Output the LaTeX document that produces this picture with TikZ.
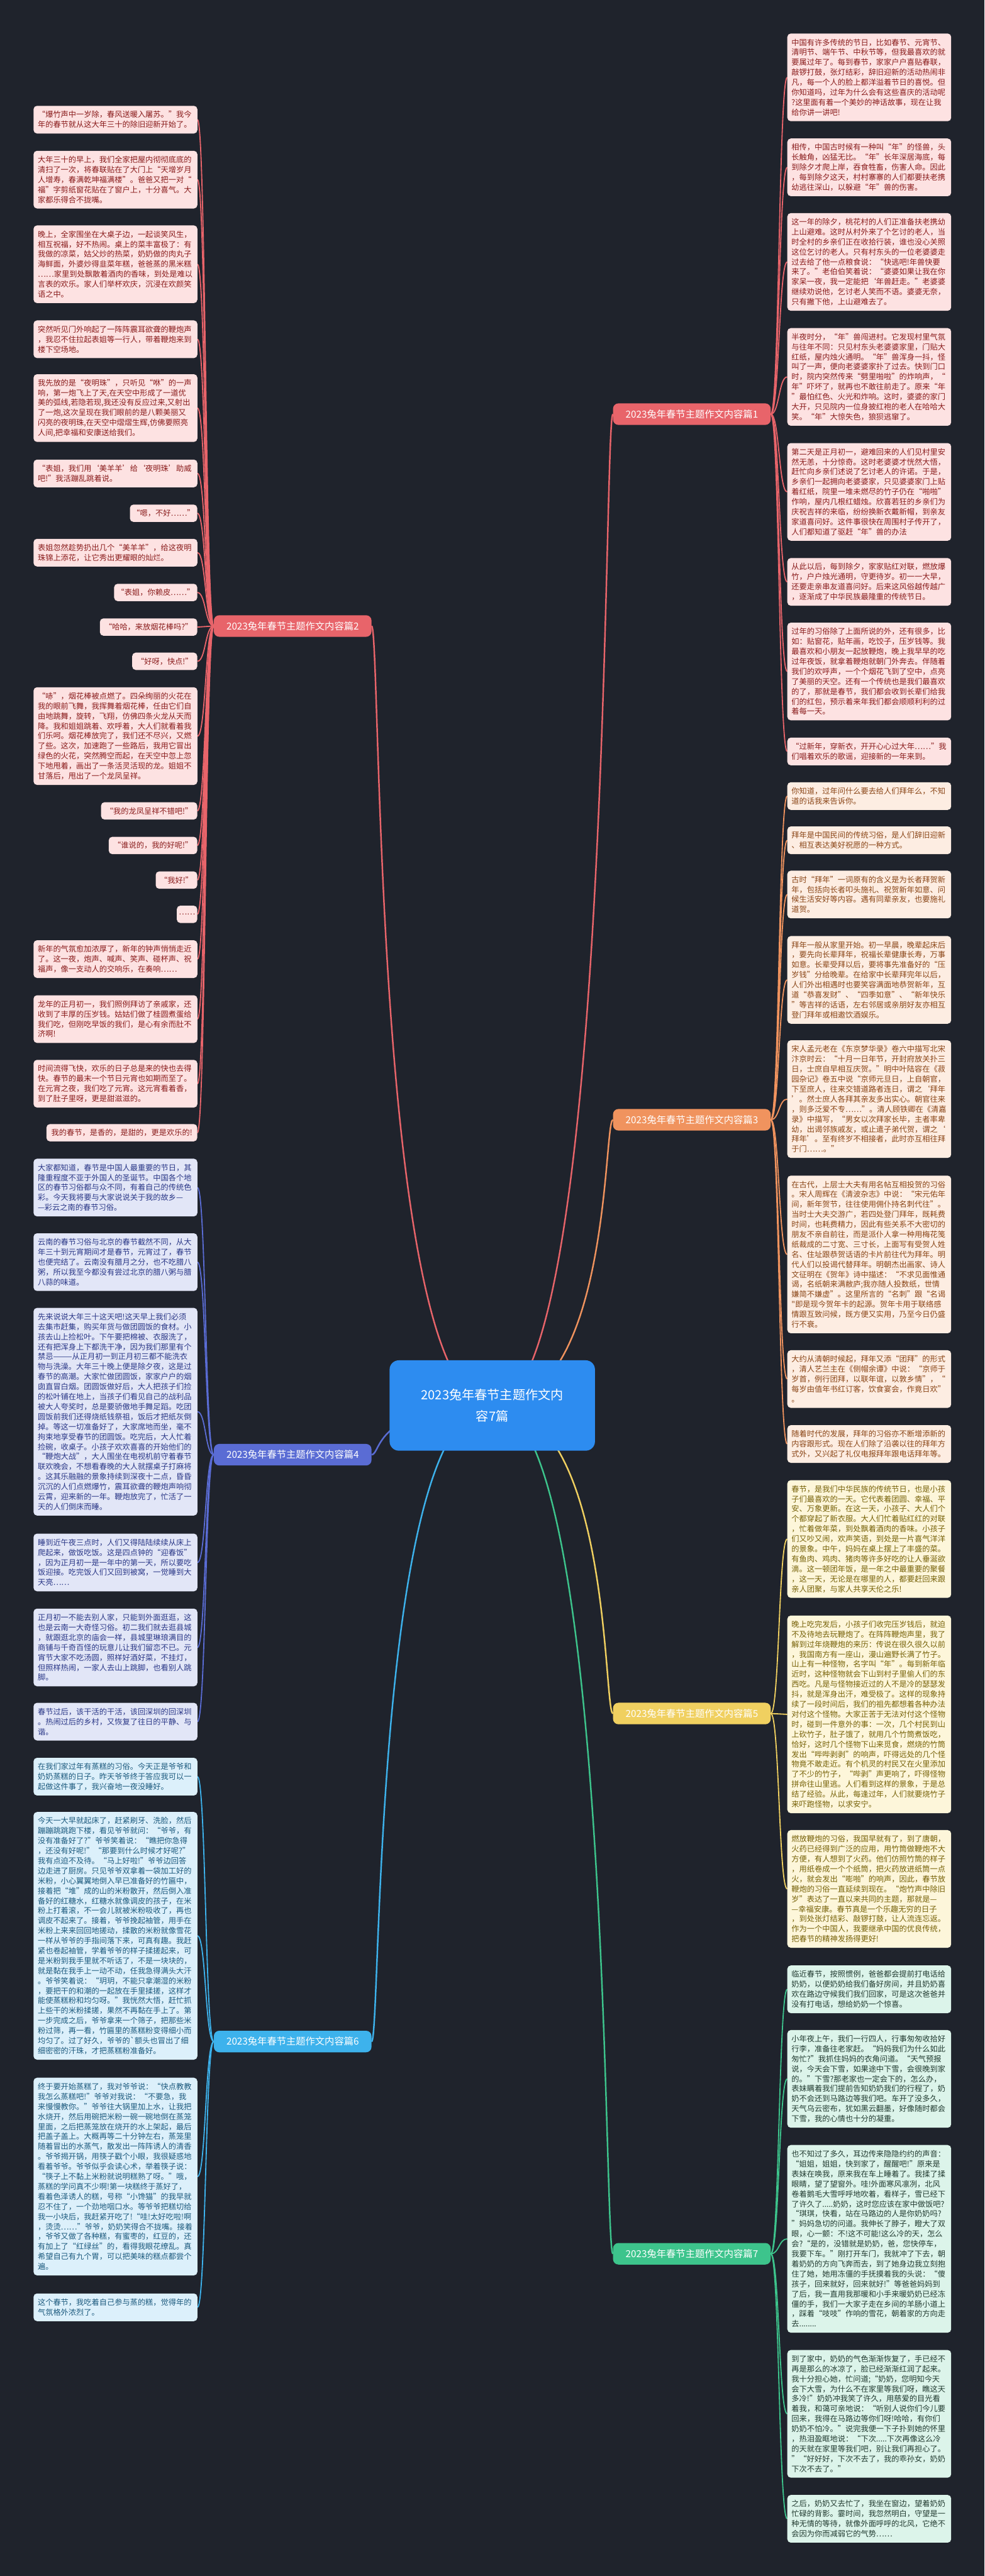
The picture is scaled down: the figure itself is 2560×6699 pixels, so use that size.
\documentclass[tikz,border=0pt]{standalone}
\usepackage{fontspec}
\newfontfamily\cjk{Noto Sans CJK SC}
\newcommand\leaffont{\cjk\fontsize{20}{26}\selectfont}
\pgfdeclarelayer{back}\pgfdeclarelayer{edges}
\pgfsetlayers{back,edges,main}
\definecolor{bgc}{HTML}{1F232C}
\definecolor{rootc}{HTML}{2D8CF0}
\definecolor{cR}{HTML}{E8646A}\definecolor{fR}{HTML}{FDE2E2}\definecolor{tR}{HTML}{8A1C1C}
\definecolor{cO}{HTML}{F0935E}\definecolor{fO}{HTML}{FDEDE2}\definecolor{tO}{HTML}{8A4516}
\definecolor{cB}{HTML}{5A6CD4}\definecolor{fB}{HTML}{E2E6F7}\definecolor{tB}{HTML}{2A3787}
\definecolor{cY}{HTML}{F0D060}\definecolor{fY}{HTML}{FDF6DA}\definecolor{tY}{HTML}{776208}
\definecolor{cS}{HTML}{3DB2EC}\definecolor{fS}{HTML}{DCF0FB}\definecolor{tS}{HTML}{1C5A7E}
\definecolor{cG}{HTML}{3DC48C}\definecolor{fG}{HTML}{DCF4EA}\definecolor{tG}{HTML}{223B31}
\tikzset{
 leafbox/.style={fill=f#1, text=t#1, rounded corners=9pt, font=\leaffont, inner xsep=11pt, inner ysep=0pt, text width=404pt, align=left, anchor=north west},
 shortbox/.style={fill=f#1, text=t#1, rounded corners=9pt, font=\leaffont, inner sep=0pt, align=center, anchor=north east, minimum height=45pt},
 brnode/.style={fill=c#1, text=white, rounded corners=14pt, minimum width=410pt, minimum height=56pt, font=\cjk\fontsize{25}{30}\selectfont, inner sep=0pt},
 rootnode/.style={fill=rootc, text=white, rounded corners=24pt, minimum width=534pt, minimum height=235pt, font=\cjk\fontsize{33}{56}\selectfont, align=center, inner sep=0pt},
 mk/.style={draw=c#1, line width=4pt},
 lk/.style={draw=c#1, line width=3pt}
}
\begin{document}
\begin{tikzpicture}[x=1pt,y=-1pt]
\useasboundingbox (0,0) rectangle (2560,6699);
\begin{pgfonlayer}{back}\fill[bgc] (0,0) rectangle (2560,6699);\end{pgfonlayer}

\node[rootnode] (root) at (1280,3655) {2023兔年春节主题作文内\\容7篇};
\node[brnode=R] (b1) at (1799,1077) {2023兔年春节主题作文内容篇1};
\node[brnode=R] (b2) at (761,1628) {2023兔年春节主题作文内容篇2};
\node[brnode=O] (b3) at (1799,2912) {2023兔年春节主题作文内容篇3};
\node[brnode=B] (b4) at (761,3783) {2023兔年春节主题作文内容篇4};
\node[brnode=Y] (b5) at (1799,4456) {2023兔年春节主题作文内容篇5};
\node[brnode=S] (b6) at (761,5309) {2023兔年春节主题作文内容篇6};
\node[brnode=G] (b7) at (1799,5861) {2023兔年春节主题作文内容篇7};

% ---------- branch 1 (right, red)
\node[leafbox=R, minimum height=228pt] (r1) at (2047,87) {中国有许多传统的节日，比如春节、元宵节、\\清明节、端午节、中秋节等，但我最喜欢的就\\要属过年了。每到春节，家家户户喜贴春联，\\敲锣打鼓，张灯结彩，辞旧迎新的活动热闹非\\凡，每一个人的脸上都洋溢着节日的喜悦。但\\你知道吗，过年为什么会有这些喜庆的活动呢\\?这里面有着一个美妙的神话故事，现在让我\\给你讲一讲吧!};
\node[leafbox=R, minimum height=150pt] (r2) at (2047,360) {相传，中国古时候有一种叫“年”的怪兽，头\\长触角，凶猛无比。“年”长年深居海底，每\\到除夕才爬上岸，吞食牲畜，伤害人命。因此\\，每到除夕这天，村村寨寨的人们都要扶老携\\幼逃往深山，以躲避“年”兽的伤害。};
\node[leafbox=R, minimum height=254pt] (r3) at (2047,554) {这一年的除夕，桃花村的人们正准备扶老携幼\\上山避难。这时从村外来了个乞讨的老人，当\\时全村的乡亲们正在收拾行装，谁也没心关照\\这位乞讨的老人。只有村东头的一位老婆婆走\\过去给了他一点粮食说：“快逃吧!年兽快要\\来了。”老伯伯笑着说：“婆婆如果让我在你\\家呆一夜，我一定能把‘年兽赶走。”老婆婆\\继续劝说他，乞讨老人笑而不语。婆婆无奈，\\只有撇下他，上山避难去了。};
\node[leafbox=R, minimum height=254pt] (r4) at (2047,853) {半夜时分，“年”兽闯进村。它发现村里气氛\\与往年不同：只见村东头老婆婆家里，门贴大\\红纸，屋内烛火通明。“年”兽浑身一抖，怪\\叫了一声，便向老婆婆家扑了过去。快到门口\\时，院内突然传来“劈里啪啦”的炸响声，“\\年”吓坏了，就再也不敢往前走了。原来“年\\”最怕红色、火光和炸响。这时，婆婆的家门\\大开，只见院内一位身披红袍的老人在哈哈大\\笑。“年”大惊失色，狼狈逃窜了。};
\node[leafbox=R, minimum height=254pt] (r5) at (2047,1152) {第二天是正月初一，避难回来的人们见村里安\\然无恙，十分惊奇。这时老婆婆才恍然大悟，\\赶忙向乡亲们述说了乞讨老人的许诺。于是，\\乡亲们一起拥向老婆婆家，只见婆婆家门上贴\\着红纸，院里一堆未燃尽的竹子仍在“啪啪”\\作响，屋内几根红蜡烛。欣喜若狂的乡亲们为\\庆祝吉祥的来临，纷纷换新衣戴新帽，到亲友\\家道喜问好。这件事很快在周围村子传开了，\\人们都知道了驱赶“年”兽的办法};
\node[leafbox=R, minimum height=124pt] (r6) at (2047,1451) {从此以后，每到除夕，家家贴红对联，燃放爆\\竹，户户烛光通明，守更待岁。初一一大早，\\还要走亲串友道喜问好。后来这风俗越传越广\\，逐渐成了中华民族最隆重的传统节日。};
\node[leafbox=R, minimum height=254pt] (r7) at (2047,1619) {过年的习俗除了上面所说的外，还有很多，比\\如：贴窗花，贴年画，吃饺子，压岁钱等。我\\最喜欢和小朋友一起放鞭炮，晚上我早早的吃\\过年夜饭，就拿着鞭炮就朝门外奔去。伴随着\\我们的欢呼声，一个个烟花飞到了空中，点亮\\了美丽的天空。还有一个传统也是我们最喜欢\\的了，那就是春节，我们都会收到长辈们给我\\们的红包，预示着来年我们都会顺顺利利的过\\着每一天。};
\node[leafbox=R, minimum height=72pt] (r8) at (2047,1918) {“过新年，穿新衣，开开心心过大年……”我\\们唱着欢乐的歌谣，迎接新的一年来到。};

% ---------- branch 3 (right, orange)
\node[leafbox=O, minimum height=72pt] (o1) at (2047,2034) {你知道，过年问什么要去给人们拜年么，不知\\道的话我来告诉你。};
\node[leafbox=O, minimum height=72pt] (o2) at (2047,2149) {拜年是中国民间的传统习俗，是人们辞旧迎新\\、相互表达美好祝愿的一种方式。};
\node[leafbox=O, minimum height=124pt] (o3) at (2047,2264) {古时“拜年”一词原有的含义是为长者拜贺新\\年，包括向长者叩头施礼、祝贺新年如意、问\\候生活安好等内容。遇有同辈亲友，也要施礼\\道贺。};
\node[leafbox=O, minimum height=228pt] (o4) at (2047,2434) {拜年一般从家里开始。初一早晨，晚辈起床后\\，要先向长辈拜年，祝福长辈健康长寿，万事\\如意。长辈受拜以后，要将事先准备好的“压\\岁钱”分给晚辈。在给家中长辈拜完年以后，\\人们外出相遇时也要笑容满面地恭贺新年，互\\道“恭喜发财”、“四季如意”、“新年快乐\\”等吉祥的话语，左右邻居或亲朋好友亦相互\\登门拜年或相邀饮酒娱乐。};
\node[leafbox=O, minimum height=306pt] (o5) at (2047,2705) {宋人孟元老在《东京梦华录》卷六中描写北宋\\汴京时云：“十月一日年节，开封府放关扑三\\日，士庶自早相互庆贺。”明中叶陆容在《菽\\园杂记》卷五中说“京师元旦日，上自朝官，\\下至庶人，往来交错道路者连日，谓之‘拜年\\’。然士庶人各拜其亲友多出实心。朝官往来\\，则多泛爱不专……”。清人顾铁卿在《清嘉\\录》中描写，“男女以次拜家长毕，主者率卑\\幼，出谒邻族戚友，或止遣子弟代贺，谓之‘\\拜年’。至有终岁不相接者，此时亦互相往拜\\于门……。”};
\node[leafbox=O, minimum height=410pt] (o6) at (2047,3057) {在古代，上层士大夫有用名帖互相投贺的习俗\\。宋人周辉在《清波杂志》中说：“宋元佑年\\间，新年贺节，往往使用佣仆持名刺代往”。\\当时士大夫交游广，若四处登门拜年，既耗费\\时间，也耗费精力，因此有些关系不大密切的\\朋友不亲自前往，而是派仆人拿一种用梅花笺\\纸裁成的二寸宽、三寸长，上面写有受贺人姓\\名、住址跟恭贺话语的卡片前往代为拜年。明\\代人们以投谒代替拜年。明朝杰出画家、诗人\\文征明在《贺年》诗中描述：“不求见面惟通\\谒，名纸朝来满敝庐;我亦随人投数纸，世情\\嫌简不嫌虚”。这里所言的“名刺”跟“名谒\\"即是现今贺年卡的起源。贺年卡用于联络感\\情跟互致问候，既方便又实用，乃至今日仍盛\\行不衰。};
\node[leafbox=O, minimum height=150pt] (o7) at (2047,3511) {大约从清朝时候起，拜年又添“团拜”的形式\\，清人艺兰主在《侧帽余谭》中说：“京师于\\岁首，例行团拜，以联年谊，以敦乡情”，“\\每岁由值年书红订客，饮食宴会，作竟日欢”\\。};
\node[leafbox=O, minimum height=98pt] (o8) at (2047,3706) {随着时代的发展，拜年的习俗亦不断增添新的\\内容跟形式。现在人们除了沿袭以往的拜年方\\式外，又兴起了礼仪电报拜年跟电话拜年等。};

% ---------- branch 5 (right, yellow)
\node[leafbox=Y, minimum height=306pt] (y1) at (2047,3849) {春节，是我们中华民族的传统节日，也是小孩\\子们最喜欢的一天。它代表着团圆、幸福、平\\安、万象更新。在这一天，小孩子、大人们个\\个都穿起了新衣服。大人们忙着贴红红的对联\\，忙着做年菜，到处飘着酒肉的香味。小孩子\\们又吵又闹，欢声笑语，到处是一片喜气洋洋\\的景象。中午，妈妈在桌上摆上了丰盛的菜。\\有鱼肉、鸡肉、猪肉等许多好吃的让人垂涎欲\\滴。这一顿团年饭，是一年之中最重要的聚餐\\，这一天，无论是在哪里的人，都要赶回来跟\\亲人团聚，与家人共享天伦之乐!};
\node[leafbox=Y, minimum height=514pt] (y2) at (2047,4201) {晚上吃完发后，小孩子们收完压岁钱后，就迫\\不及待地去玩鞭炮了。在阵阵鞭炮声里，我了\\解到过年烧鞭炮的来历：传说在很久很久以前\\，我国南方有一座山，漫山遍野长满了竹子。\\山上有一种怪物，名字叫“年”。每到新年临\\近时，这种怪物就会下山到村子里偷人们的东\\西吃。凡是与怪物接近过的人不是冷的瑟瑟发\\抖，就是浑身出汗，难受极了。这样的现象持\\续了一段时间后，我们的祖先都想着各种办法\\对付这个怪物。大家正苦于无法对付这个怪物\\时，碰到一件意外的事：一次，几个村民到山\\上砍竹子，肚子饿了，就用几个竹筒煮饭吃，\\恰好，这时几个怪物下山来觅食，燃烧的竹筒\\发出“哔哔剥剥”的响声，吓得远处的几个怪\\物竟不敢走近。有个机灵的村民又在火里添加\\了不少的竹子，“哔剥”声更响了，吓得怪物\\拼命往山里逃。人们看到这样的景象，于是总\\结了经验。从此，每逢过年，人们就要烧竹子\\来吓跑怪物，以求安宁。};
\node[leafbox=Y, minimum height=306pt] (y3) at (2047,4759) {燃放鞭炮的习俗，我国早就有了，到了唐朝，\\火药已经得到广泛的应用，用竹筒做鞭炮不大\\方便，有人想到了火药。他们仿照竹筒的样子\\，用纸卷成一个个纸筒，把火药放进纸筒一点\\火，就会发出“嘭啪”的响声，因此，春节放\\鞭炮的习俗一直延续到现在。“炮竹声中除旧\\岁”表达了一直以来共同的主题，那就是—\\—幸福安康。春节真是一个乐趣无穷的日子\\，到处张灯结彩、敲锣打鼓，让人流连忘返。\\作为一个中国人，我要继承中国的优良传统，\\把春节的精神发扬得更好!};

% ---------- branch 7 (right, green)
\node[leafbox=G, minimum height=124pt] (g1) at (2047,5111) {临近春节，按照惯例，爸爸都会提前打电话给\\奶奶，以便奶奶给我们备好房间，并且奶奶喜\\欢在路边守候我们我们回家，可是这次爸爸并\\没有打电话，想给奶奶一个惊喜。};
\node[leafbox=G, minimum height=254pt] (g2) at (2047,5279) {小年夜上午，我们一行四人，行事匆匆收拾好\\行李，准备往老家赶。“妈妈我们为什么如此\\匆忙?”我抓住妈妈的衣角问道。“天气预报\\说，今天会下雪，如果途中下雪，会很晚到家\\的。”下雪?那老家也一定会下的，怎么办，\\表妹瞒着我们提前告知奶奶我们的行程了，奶\\奶不会还到马路边等我们吧。车开了没多久，\\天气乌云密布，犹如黑云翻墨，好像随时都会\\下雪，我的心情也十分的凝重。};
\node[leafbox=G, minimum height=488pt] (g3) at (2047,5578) {也不知过了多久，耳边传来隐隐约约的声音：\\“姐姐，姐姐，快到家了，醒醒吧!”原来是\\表妹在唤我，原来我在车上睡着了。我揉了揉\\眼睛，望了望窗外。哇!外面寒风凛冽，北风\\卷着鹅毛大雪呼呼地吹着，看样子，雪已经下\\了许久了.....奶奶，这时您应该在家中做饭吧?\\“琪琪，快看，站在马路边的人是你奶奶吗?\\”妈妈急切的问道。我伸长了脖子，瞪大了双\\眼，心一颤：不!这不可能!这么冷的天，怎么\\会?“是的，没错就是奶奶，爸，您快停车，\\我要下车。”刚打开车门，我就冲了下去，朝\\着奶奶的方向飞奔而去，到了她身边我立刻抱\\住了她，她用冻僵的手抚摸着我的头说：“傻\\孩子，回来就好，回来就好!”等爸爸妈妈到\\了后，我一直用我那暖和小手来暖奶奶已经冻\\僵的手，我们一大家子走在乡间的羊肠小道上\\，踩着“吱吱”作响的雪花，朝着家的方向走\\去........};
\node[leafbox=G, minimum height=332pt] (g4) at (2047,6111) {到了家中，奶奶的气色渐渐恢复了，手已经不\\再是那么的冰凉了，脸已经渐渐红润了起来。\\我十分担心她，忙问道;“奶奶，您明知今天\\会下大雪，为什么不在家里等我们呀，瞧这天\\多冷!”奶奶冲我笑了许久，用慈爱的目光看\\着我，和蔼可亲地说：“听别人说你们今儿要\\回来，我得在马路边等你们呀!哈哈，有你们\\奶奶不怕冷。”说完我便一下子扑到她的怀里\\，热泪盈眶地说：“下次.....下次再像这么冷\\的天就在家里等我们吧，别让我们再担心了。\\”“好好好，下次不去了，我的乖孙女，奶奶\\下次不去了。”};
\node[leafbox=G, minimum height=124pt] (g5) at (2047,6488) {之后，奶奶又去忙了，我坐在窗边，望着奶奶\\忙碌的背影。霎时间，我忽然明白，守望是一\\种无情的等待，就像外面呼呼的北风，它绝不\\会因为你而减弱它的气势……};

% ---------- branch 2 (left, red)
\node[leafbox=R, minimum height=72pt] (l1) at (87,275) {“爆竹声中一岁除，春风送暖入屠苏。”我今\\年的春节就从这大年三十的除旧迎新开始了。};
\node[leafbox=R, minimum height=150pt] (l2) at (87,392) {大年三十的早上，我们全家把屋内彻彻底底的\\清扫了一次，将春联贴在了大门上“天增岁月\\人增寿，春满乾坤福满楼”。爸爸又把一对“\\福”字剪纸窗花贴在了窗户上，十分喜气。大\\家都乐得合不拢嘴。};
\node[leafbox=R, minimum height=202pt] (l3) at (87,586) {晚上，全家围坐在大桌子边，一起谈笑风生，\\相互祝福，好不热闹。桌上的菜丰富极了：有\\我做的凉菜，姑父炒的热菜，奶奶做的肉丸子\\海鲜面，外婆炒得韭菜年糕，爸爸蒸的黑米糕\\……家里到处飘散着酒肉的香味，到处是难以\\言表的欢乐。家人们举杯欢庆，沉浸在欢颜笑\\语之中。};
\node[leafbox=R, minimum height=98pt] (l4) at (87,833) {突然听见门外响起了一阵阵震耳欲聋的鞭炮声\\，我忍不住拉起表姐等一行人，带着鞭炮来到\\楼下空场地。};
\node[leafbox=R, minimum height=176pt] (l5) at (87,973) {我先放的是“夜明珠”，只听见“咻”的一声\\响，第一炮飞上了天,在天空中形成了一道优\\美的弧线,若隐若现,我还没有反应过来,又射出\\了一炮,这次呈现在我们眼前的是八颗美丽又\\闪亮的夜明珠,在天空中熠熠生辉,仿佛要照亮\\人间,把幸福和安康送给我们。};
\node[leafbox=R, minimum height=72pt] (l6) at (87,1195) {“表姐，我们用‘美羊羊’给‘夜明珠’助威\\吧!”我活蹦乱跳着说。};
\node[shortbox=R, minimum width=175pt] (l7) at (513,1312) {“嗯，不好……”};
\node[leafbox=R, minimum height=72pt] (l8) at (87,1401) {表姐忽然趁势扔出几个“美羊羊”，给这夜明\\珠锦上添花，让它秀出更耀眼的灿烂。};
\node[shortbox=R, minimum width=216pt] (l9) at (513,1518) {“表姐，你赖皮……”};
\node[shortbox=R, minimum width=253pt] (l10) at (513,1608) {“哈哈，来放烟花棒吗?”};
\node[shortbox=R, minimum width=169pt] (l11) at (513,1697) {“好呀，快点!”};
\node[leafbox=R, minimum height=254pt] (l12) at (87,1787) {“哧”，烟花棒被点燃了。四朵绚丽的火花在\\我的眼前飞舞，我挥舞着烟花棒，任由它们自\\由地跳舞，旋转，飞翔，仿佛四条火龙从天而\\降。我和姐姐跳着、欢呼着，大人们就看着我\\们乐呵。烟花棒放完了，我们还不尽兴，又燃\\了些。这次，加速跑了一些路后，我用它冒出\\绿色的火花，突然腾空而起，在天空中忽上忽\\下地甩着，画出了一条活灵活现的龙。姐姐不\\甘落后，甩出了一个龙凤呈祥。};
\node[shortbox=R, minimum width=250pt] (l13) at (513,2086) {“我的龙凤呈祥不错吧!”};
\node[shortbox=R, minimum width=230pt] (l14) at (513,2176) {“谁说的，我的好呢!”};
\node[shortbox=R, minimum width=108pt] (l15) at (513,2266) {“我好!”};
\node[shortbox=R, minimum width=53pt] (l16) at (513,2355) {……};
\node[leafbox=R, minimum height=98pt] (l17) at (87,2445) {新年的气氛愈加浓厚了，新年的钟声悄悄走近\\了。这一夜，炮声、喊声、笑声、碰杯声、祝\\福声，像一支动人的交响乐，在奏响……};
\node[leafbox=R, minimum height=124pt] (l18) at (87,2588) {龙年的正月初一，我们照例拜访了亲戚家，还\\收到了丰厚的压岁钱。姑姑们做了桂圆煮蛋给\\我们吃，但刚吃早饭的我们，是心有余而肚不\\济啊!};
\node[leafbox=R, minimum height=124pt] (l19) at (87,2756) {时间流得飞快，欢乐的日子总是来的快也去得\\快。春节的最末一个节日元宵也如期而至了。\\在元宵之夜，我们吃了元宵。这元宵看着香，\\到了肚子里呀，更是甜滋滋的。};
\node[shortbox=R, minimum width=392pt] (l20) at (513,2923) {我的春节，是香的，是甜的，更是欢乐的!};

% ---------- branch 4 (left, blue)
\node[leafbox=B, minimum height=150pt] (u1) at (87,3013) {大家都知道，春节是中国人最重要的节日，其\\隆重程度不亚于外国人的圣诞节。中国各个地\\区的春节习俗都与众不同，有着自己的传统色\\彩。今天我将要与大家说说关于我的故乡—\\—彩云之南的春节习俗。};
\node[leafbox=B, minimum height=150pt] (u2) at (87,3207) {云南的春节习俗与北京的春节截然不同，从大\\年三十到元宵期间才是春节，元宵过了，春节\\也便完结了。云南没有腊月之分，也不吃腊八\\粥，所以我至今都没有尝过北京的腊八粥与腊\\八蒜的味道。};
\node[leafbox=B, minimum height=540pt] (u3) at (87,3401) {先来说说大年三十这天吧!这天早上我们必须\\去集市赶集，购买年货与做团圆饭的食材。小\\孩去山上捡松叶。下午要把棉被、衣服洗了，\\还有把浑身上下都洗干净，因为我们那里有个\\禁忌———从正月初一到正月初三都不能洗衣\\物与洗澡。大年三十晚上便是除夕夜，这是过\\春节的高潮。大家忙做团圆饭，家家户户的烟\\囱直冒白烟。团圆饭做好后，大人把孩子们捡\\的松叶铺在地上，当孩子们看见自己的战利品\\被大人夸奖时，总是要骄傲地手舞足蹈。吃团\\圆饭前我们还得烧纸钱祭祖，饭后才把纸灰倒\\掉。等这一切准备好了，大家席地而坐，毫不\\拘束地享受春节的团圆饭。吃完后，大人忙着\\捡碗，收桌子。小孩子欢欢喜喜的开始他们的\\“鞭炮大战”，大人围坐在电视机前守着春节\\联欢晚会，不想看春晚的大人就摆桌子打麻将\\。这其乐融融的景象持续到深夜十二点，昏昏\\沉沉的人们点燃爆竹，震耳欲聋的鞭炮声响彻\\云霄，迎来新的一年。鞭炮放完了，忙活了一\\天的人们倒床而睡。};
\node[leafbox=B, minimum height=150pt] (u4) at (87,3988) {睡到近午夜三点时，人们又得陆陆续续从床上\\爬起来，做饭吃饭。这是四点钟的“迎春饭”\\，因为正月初一是一年中的第一天，所以要吃\\饭迎接。吃完饭人们又回到被窝，一觉睡到大\\天亮……};
\node[leafbox=B, minimum height=202pt] (u5) at (87,4183) {正月初一不能去别人家，只能到外面逛逛，这\\也是云南一大奇怪习俗。初二我们就去逛县城\\，就跟逛北京的庙会一样，县城里琳琅满目的\\商铺与千奇百怪的玩意儿让我们留恋不已。元\\宵节大家不吃汤圆，照样好酒好菜，不挂灯，\\但照样热闹，一家人去山上跳脚，也看别人跳\\脚。};
\node[leafbox=B, minimum height=98pt] (u6) at (87,4428) {春节过后，该干活的干活，该回深圳的回深圳\\。热闹过后的乡村，又恢复了往日的平静、与\\谐。};

% ---------- branch 6 (left, sky)
\node[leafbox=S, minimum height=98pt] (s1) at (87,4571) {在我们家过年有蒸糕的习俗。今天正是爷爷和\\奶奶蒸糕的日子。昨天爷爷终于答应我可以一\\起做这件事了，我兴奋地一夜没睡好。};
\node[leafbox=S, minimum height=644pt] (s2) at (87,4712) {今天一大早就起床了，赶紧刷牙、洗脸，然后\\蹦蹦跳跳跑下楼，看见爷爷就问：“爷爷，有\\没有准备好了?”爷爷笑着说：“瞧把你急得\\，还没有好呢!”“那要到什么时候才好呢?”\\我有点迫不及待。“马上好啦!”爷爷边回答\\边走进了厨房。只见爷爷双拿着一袋加工好的\\米粉，小心翼翼地倒入早已准备好的竹匾中，\\接着把“堆”成的山的米粉散开，然后倒入准\\备好的红糖水，红糖水就像调皮的孩子，在米\\粉上打着滚，不一会儿就被米粉吸收了，再也\\调皮不起来了。接着，爷爷挽起袖管，用手在\\米粉上来来回回地搓动，揉散的米粉就像雪花\\一样从爷爷的手指间落下来，可真有趣。我赶\\紧也卷起袖管，学着爷爷的样子揉搓起来，可\\是米粉到我手里就不听话了，不是一块块的，\\就是黏在我手上一动不动，任我急得满头大汗\\。爷爷笑着说：“玥玥，不能只拿潮湿的米粉\\，要把干的和潮的一起放在手里揉搓，这样才\\能使蒸糕粉和均匀呀。”我恍然大悟，赶忙抓\\上些干的米粉揉搓，果然不再黏在手上了。第\\一步完成之后，爷爷拿来一个筛子，把那些米\\粉过筛，再一看，竹匾里的蒸糕粉变得细小而\\均匀了。过了好久，爷爷的`额头也冒出了细\\细密密的汗珠，才把蒸糕粉准备好。};
\node[leafbox=S, minimum height=514pt] (s3) at (87,5403) {终于要开始蒸糕了，我对爷爷说：“快点教教\\我怎么蒸糕吧!”爷爷对我说：“不要急，我\\来慢慢教你。”爷爷往大锅里加上水，让我把\\水烧开，然后用碗把米粉一碗一碗地倒在蒸笼\\里面，之后把蒸笼放在烧开的水上架起，最后\\把盖子盖上。大概再等二十分钟左右，蒸笼里\\随着冒出的水蒸气，散发出一阵阵诱人的清香\\。爷爷揭开锅，用筷子戳个小眼，我很疑惑地\\看着爷爷。爷爷似乎会读心术，举着筷子说：\\“筷子上不黏上米粉就说明糕熟了呀。”哦，\\蒸糕的学问真不少啊!第一块糕终于蒸好了，\\看着色泽诱人的糕，号称“小馋猫”的我早就\\忍不住了，一个劲地咽口水。等爷爷把糕切给\\我一小块后，我赶紧开吃了!“哇!太好吃啦!啊\\，烫烫……”爷爷，奶奶笑得合不拢嘴。接着\\，爷爷又做了各种糕，有蜜枣的，红豆的，还\\有加上了“红绿丝”的，看得我眼花缭乱。真\\希望自己有九个胃，可以把美味的糕点都尝个\\遍。};
\node[leafbox=S, minimum height=72pt] (s4) at (87,5964) {这个春节，我吃着自己参与蒸的糕，觉得年的\\气氛格外浓烈了。};

\begin{pgfonlayer}{edges}
% root to branches
\foreach \b/\c in {b1/R,b3/O,b5/Y,b7/G}
  \draw[mk=\c] (root.center) .. controls +(310,0) and +(-25,0) .. (\b.west);
\foreach \b/\c in {b2/R,b4/B,b6/S}
  \draw[mk=\c] (root.center) .. controls +(-310,0) and +(25,0) .. (\b.east);
% right leaves
\foreach \l in {r1,r2,r3,r4,r5,r6,r7,r8}
  \draw[lk=R] (b1.east) .. controls +(22,0) and +(-22,0) .. (\l.west);
\foreach \l in {o1,o2,o3,o4,o5,o6,o7,o8}
  \draw[lk=O] (b3.east) .. controls +(22,0) and +(-22,0) .. (\l.west);
\foreach \l in {y1,y2,y3}
  \draw[lk=Y] (b5.east) .. controls +(22,0) and +(-22,0) .. (\l.west);
\foreach \l in {g1,g2,g3,g4,g5}
  \draw[lk=G] (b7.east) .. controls +(22,0) and +(-22,0) .. (\l.west);
% left leaves
\foreach \l in {l1,l2,l3,l4,l5,l6,l7,l8,l9,l10,l11,l12,l13,l14,l15,l16,l17,l18,l19,l20}
  \draw[lk=R] (b2.west) .. controls +(-22,0) and +(22,0) .. (\l.east);
\foreach \l in {u1,u2,u3,u4,u5,u6}
  \draw[lk=B] (b4.west) .. controls +(-22,0) and +(22,0) .. (\l.east);
\foreach \l in {s1,s2,s3,s4}
  \draw[lk=S] (b6.west) .. controls +(-22,0) and +(22,0) .. (\l.east);
\end{pgfonlayer}
\end{tikzpicture}
\end{document}
